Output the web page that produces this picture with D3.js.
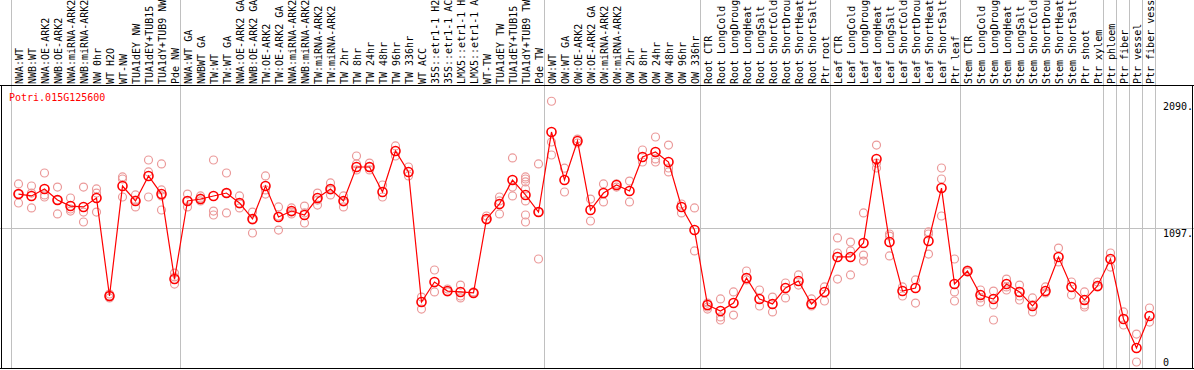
<!DOCTYPE html>
<html>
<head>
<meta charset="utf-8">
<script src="https://cdn.jsdelivr.net/npm/d3@7"></script>
<style>
  body { margin: 0; background: #fff; }
  text { font-family: "DejaVu Sans Mono", monospace; font-size: 10px; }
</style>
</head>
<body>
<div id="chart"></div>
<script>

var gene = "Potri.015G125600";

// sample names as far as they fit in the header strip
var samples = ["NWA:WT", "NWB:WT", "NWA:OE-ARK2", "NWB:OE-ARK2", "NWA:miRNA-ARK2", "NWB:miRNA-ARK2",
  "NW 0hr", "WT H2O", "WT-NW", "TUA1dEY NW", "TUA1dEY+TUB15", "TUA1dY+TUB9 NW", "Pde NW",
  "NWA:WT GA", "NWBWT GA", "TW:WT", "TW:WT GA", "NWA:OE-ARK2 GA", "NWB:OE-ARK2 GA", "TW:OE-ARK2",
  "TW:OE-ARK2 GA", "NWA:miRNA-ARK2", "NWB:miRNA-ARK2", "TW:miRNA-ARK2", "TW:miRNA-ARK2",
  "TW 2hr", "TW 8hr", "TW 24hr", "TW 48hr", "TW 96hr", "TW 336hr", "WT ACC",
  "35S::etr1-1 H2", "35S::etr1-1 AC", "LMX5::etr1-1 H", "LMX5::etr1-1 A", "WT-TW",
  "TUA1dEY TW", "TUA1dEY+TUB15", "TUA1dY+TUB9 TW", "Pde TW",
  "OW:WT", "OW:WT GA", "OW:OE-ARK2", "OW:OE-ARK2 GA", "OW:miRNA-ARK2", "OW:miRNA-ARK2",
  "OW 2hr", "OW 8hr", "OW 24hr", "OW 48hr", "OW 96hr", "OW 336hr",
  "Root CTR", "Root LongCold", "Root LongDroug", "Root LongHeat", "Root LongSalt",
  "Root ShortCold", "Root ShortDrou", "Root ShortHeat", "Root ShortSalt", "Ptr root",
  "Leaf CTR", "Leaf LongCold", "Leaf LongDroug", "Leaf LongHeat", "Leaf LongSalt",
  "Leaf ShortCold", "Leaf ShortDrou", "Leaf ShortHeat", "Leaf ShortSalt", "Ptr leaf",
  "Stem CTR", "Stem LongCold", "Stem LongDroug", "Stem LongHeat", "Stem LongSalt",
  "Stem ShortCold", "Stem ShortDrou", "Stem ShortHeat", "Stem ShortSalt", "Ptr shoot",
  "Ptr xylem", "Ptr phloem", "Ptr fiber", "Ptr vessel", "Ptr fiber vess"];

// group borders (sample index where a new group starts)
var groupBreaks = [0, 13, 41, 53, 63, 73, 84, 85, 86, 87, 88];

var means = [1363, 1348, 1403, 1316, 1269, 1262, 1332, 564, 1426, 1309, 1505, 1363, 697,
  1309, 1324, 1348, 1371, 1293, 1168, 1426, 1183, 1230, 1199, 1332, 1403, 1309, 1575, 1575,
  1379, 1700, 1536, 517, 674, 603, 596, 588, 1168, 1285, 1473, 1356, 1222,
  1849, 1473, 1779, 1238, 1371, 1434, 1387, 1653, 1693, 1614, 1262, 1081,
  494, 447, 509, 705, 541, 502, 627, 682, 502, 596,
  870, 870, 980, 1638, 987, 603, 627, 995, 1410, 658,
  760, 572, 541, 658, 596, 486, 603, 870, 635, 533, 643,
  854, 384, 157, 407];

var replicates = [
  [1442, 1363, 1293], [1426, 1371, 1254], [1528, 1356, 1340], [1418, 1316, 1207],
  [1332, 1246, 1230], [1418, 1222, 1144], [1403, 1371, 1222], [580, 564, 549],
  [1497, 1481, 1340], [1356, 1316, 1262], [1630, 1536, 1340], [1599, 1395, 1348, 1238],
  [744, 713, 658],
  [1363, 1309, 1262], [1348, 1332, 1309], [1630, 1230, 1199], [1528, 1371, 1215],
  [1348, 1285, 1254], [1222, 1160, 1058], [1505, 1395, 1363], [1262, 1191, 1081],
  [1254, 1222, 1207], [1269, 1215, 1136], [1371, 1316, 1277], [1450, 1395, 1356],
  [1348, 1301, 1262], [1661, 1599, 1552], [1606, 1575, 1552], [1434, 1340], [1740, 1661],
  [1575, 1505], [556, 462], [768, 596], [619, 596], [650, 564, 549], [596, 588],
  [1191, 1160], [1340, 1309, 1207], [1646, 1418, 1348],
  [1497, 1481, 1458, 1403, 1309, 1199, 1144], [1599, 1222, 854],
  [2090, 1771, 1669], [1566, 1379], [1794, 1763], [1324, 1152], [1442, 1301], [1442, 1418],
  [1465, 1301], [1708, 1614], [1810, 1638, 1614], [1747, 1567, 1536], [1285, 1215],
  [1254, 917],
  [509, 478, 462], [541, 400, 376], [596, 415], [760, 690], [611, 486], [556, 439],
  [666, 549], [729, 650], [541, 486], [635, 525],
  [1019, 901, 697], [987, 917, 729], [1215, 885, 838], [1747, 1606, 1567],
  [1050, 1034, 878], [635, 564], [690, 509], [1066, 1050, 893], [1567, 1481, 1191],
  [854, 596, 525],
  [768, 752], [611, 549, 517], [603, 494, 376], [697, 635, 611], [650, 564, 533],
  [549, 494, 439], [635, 588], [940, 831], [674, 572], [596, 494, 478], [674, 635],
  [901, 791], [439, 337], [266, 47], [470, 360]];

var yTicks = [2090, 1097, 0];

var width = 1194, height = 370;
var plotTop = 85, plotBottom = 368;

var svg = d3.select("#chart")
  .append("svg")
    .attr("width", width)
    .attr("height", height);

var x = d3.scaleBand()
  .domain(d3.range(samples.length))
  .range([11, 1155]);

var y = d3.scaleLinear()
  .domain([0, 2194])
  .range([plotBottom, 88]);

function cx(i) { return x(i) + x.bandwidth() / 2 + 1; }
function edge(k) { return k < samples.length ? x(k) : 1155; }

// vertical group lines (run through the label area too)
svg.selectAll("vline")
  .data(groupBreaks)
  .enter()
  .append("line")
    .attr("x1", function(d) { return Math.round(edge(d)) + 0.5; })
    .attr("x2", function(d) { return Math.round(edge(d)) + 0.5; })
    .attr("y1", 0)
    .attr("y2", plotBottom)
    .attr("stroke", "#c0c0c0")
    .attr("stroke-width", 1);

// horizontal mid line
svg.append("line")
  .attr("x1", 0).attr("x2", width)
  .attr("y1", Math.round(y(1097)) + 0.5)
  .attr("y2", Math.round(y(1097)) + 0.5)
  .attr("stroke", "#c0c0c0");

// frame
svg.append("line")
  .attr("x1", 0).attr("x2", width)
  .attr("y1", plotTop + 0.5).attr("y2", plotTop + 0.5)
  .attr("stroke", "#000");
svg.append("line")
  .attr("x1", 0).attr("x2", width)
  .attr("y1", plotBottom + 0.5).attr("y2", plotBottom + 0.5)
  .attr("stroke", "#000");
svg.append("line")
  .attr("x1", 1.5).attr("x2", 1.5)
  .attr("y1", plotTop).attr("y2", plotBottom + 1)
  .attr("stroke", "#000");
svg.append("line")
  .attr("x1", width - 1.5).attr("x2", width - 1.5)
  .attr("y1", plotTop).attr("y2", plotBottom + 1)
  .attr("stroke", "#000");

// sample labels
svg.selectAll("slabel")
  .data(samples)
  .enter()
  .append("text")
    .attr("transform", function(d, i) { return "translate(" + (cx(i) + 4) + "," + (plotTop - 1) + ") rotate(-90)"; })
    .attr("fill", "#000")
    .text(function(d) { return d; });

// y labels
svg.selectAll("ylabel")
  .data(yTicks)
  .enter()
  .append("text")
    .attr("x", 1163)
    .attr("y", function(d) { return d === 0 ? y(d) - 2 : y(d) + 9; })
    .attr("fill", "#000")
    .text(function(d) { return d === 0 ? "0" : d + "."; });

// gene name
svg.append("text")
  .attr("x", 9)
  .attr("y", 101)
  .attr("fill", "#ff0000")
  .text(gene);

// replicate circles
var repPoints = [];
replicates.forEach(function(r, i) {
  r.forEach(function(v) { repPoints.push({i: i, v: v}); });
});

svg.selectAll("rep")
  .data(repPoints)
  .enter()
  .append("circle")
    .attr("cx", function(d) { return cx(d.i); })
    .attr("cy", function(d) { return y(d.v); })
    .attr("r", 4)
    .attr("fill", "none")
    .attr("stroke", "#eb9a9a")
    .attr("stroke-width", 1.2);

// mean line
svg.append("path")
  .datum(means)
  .attr("fill", "none")
  .attr("stroke", "#ff0000")
  .attr("stroke-width", 1.2)
  .attr("d", d3.line()
    .x(function(d, i) { return cx(i); })
    .y(function(d) { return y(d); }));

// mean circles
svg.selectAll("mean")
  .data(means)
  .enter()
  .append("circle")
    .attr("cx", function(d, i) { return cx(i); })
    .attr("cy", function(d) { return y(d); })
    .attr("r", 4.5)
    .attr("fill", "none")
    .attr("stroke", "#ff0000")
    .attr("stroke-width", 1.6);

</script>
</body>
</html>
